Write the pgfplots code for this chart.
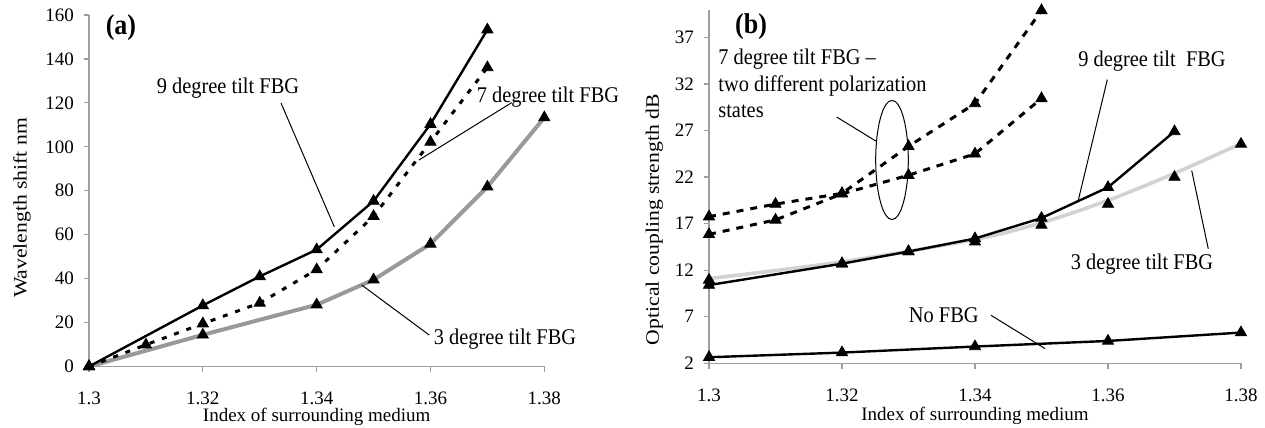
\documentclass[border=0pt]{standalone}
\usepackage{pgfplots}
\pgfplotsset{compat=1.18}
\usepackage{graphicx}
\usepackage{fontspec}
\setmainfont{Liberation Serif}
\newcommand{\st}[1]{\scalebox{1}[1.1]{#1}}
\newcommand{\lng}[1]{\scalebox{1.14}[1]{#1}}

\pgfplotsset{
 mystyle/.style={
  scale only axis, clip=false,
  axis x line*=bottom, axis y line*=left,
  axis line style={draw=gray!75, line width=0.6pt},
  tick style={draw=gray!75, line width=0.6pt},
  tick align=outside, major tick length=2.7pt,
  xmin=1.3, xmax=1.38,
  xtick={1.3,1.32,1.34,1.36,1.38},
  xticklabels={1.3,1.32,1.34,1.36,1.38},
  ticklabel style={font=\fontsize{9.5}{11}\selectfont},
  xticklabel style={inner sep=0pt, yshift=-9.8pt},
  yticklabel style={xshift=-1.3pt},
  /pgf/number format/assume math mode=true,
  label style={font=\fontsize{9.5}{11}\selectfont},
  every axis plot/.append style={mark=triangle*, mark size=3.2pt, mark options={solid, fill=black, draw=black, line width=0.4pt}},
 },
}
\tikzset{
 ann/.style={font=\fontsize{10.2}{12}\selectfont, inner sep=0pt},
 lead/.style={draw=black, line width=0.5pt},
}

\begin{document}
\begin{tikzpicture}
\useasboundingbox (0,0) rectangle (632.5pt,214pt);

% ---------------- panel (a)
\begin{axis}[mystyle,
  at={(44.5pt,30.75pt)}, anchor=south west,
  width=227.65pt, height=175.75pt,
  ymin=0, ymax=160, ytick={0,20,...,160},
  xlabel={Index of surrounding medium},
  ylabel={\lng{Wavelength shift nm}},
  xlabel style={at={(axis description cs:0.5,-0.143)}, anchor=center, inner sep=0pt},
  ylabel style={at={(axis description cs:-0.147,0.451)}, anchor=center},
]
\addplot[gray!80, line width=2pt] coordinates {(1.3,0)(1.32,14.4)(1.34,28.1)(1.35,39.5)(1.36,55.8)(1.37,81.8)(1.38,113.3)};
\addplot[black, line width=1.5pt, dash pattern=on 2.5pt off 4pt] coordinates {(1.3,0)(1.31,9.9)(1.32,19.5)(1.33,28.9)(1.34,44.1)(1.35,68.4)(1.36,102.2)(1.37,136.1)};
\addplot[black, line width=1.2pt] coordinates {(1.3,0)(1.32,27.8)(1.33,41)(1.34,53.2)(1.35,75.3)(1.36,110.3)(1.37,153.3)};

\node[font=\bfseries\fontsize{13}{15}\selectfont, inner sep=0pt] at (axis cs:1.30562,154.1) {\st{(a)}};
\node[ann] at (axis cs:1.32442,126.8) {\st{9 degree tilt FBG}};
\draw[lead] (axis cs:1.33374,119.9) -- (axis cs:1.3431,63.6);
\node[ann] at (axis cs:1.38065,122.7) {\st{7 degree tilt FBG}};
\draw[lead] (axis cs:1.37427,120.1) -- (axis cs:1.35798,94.0);
\node[ann] at (axis cs:1.37310,12.5) {\st{3 degree tilt FBG}};
\draw[lead] (axis cs:1.35979,14.3) -- (axis cs:1.34791,37.1);
\end{axis}

% ---------------- panel (b)
\begin{axis}[mystyle,
  at={(354.5pt,32.35pt)}, anchor=south west,
  width=266pt, height=176.9pt,
  ymin=2, ymax=40, ytick={2,7,...,37},
  xlabel={Index of surrounding medium},
  ylabel={\lng{Optical coupling strength dB}},
  xlabel style={at={(axis description cs:0.5,-0.148)}, anchor=center, inner sep=0pt},
  ylabel style={at={(axis description cs:-0.103,0.406)}, anchor=center},
]
\addplot[black, line width=1.2pt] coordinates {(1.3,2.65)(1.32,3.15)(1.34,3.8)(1.36,4.4)(1.38,5.3)};
\addplot[gray!35, line width=1.8pt, smooth, no markers] coordinates {(1.3,11.1)(1.32,12.9)(1.34,15.3)(1.35,17.1)(1.36,19.5)(1.37,22.4)(1.38,25.6)};
\addplot[only marks] coordinates {(1.3,10.95)(1.32,12.7)(1.33,14.0)(1.34,15.05)(1.35,16.85)(1.36,19.1)(1.37,22.0)(1.38,25.55)};
\addplot[black, line width=1.2pt] coordinates {(1.3,10.4)(1.32,12.7)(1.33,14.0)(1.34,15.4)(1.35,17.6)(1.36,20.9)(1.37,26.9)};
\addplot[black, line width=1.5pt, dash pattern=on 3.5pt off 3.5pt] coordinates {(1.3,17.75)(1.31,19.1)(1.32,20.25)(1.33,25.3)(1.34,29.9)(1.35,39.9)};
\addplot[black, line width=1.5pt, dash pattern=on 3.5pt off 3.5pt] coordinates {(1.3,15.85)(1.31,17.4)(1.32,20.2)(1.33,22.2)(1.34,24.5)(1.35,30.45)};

\node[font=\bfseries\fontsize{13}{15}\selectfont, inner sep=0pt] at (axis cs:1.30632,38.2) {\st{(b)}};
\node[ann, anchor=base west] at (axis cs:1.30135,34.04) {\st{7 degree tilt FBG --}};
\node[ann, anchor=base west] at (axis cs:1.30135,31.14) {\st{two different polarization}};
\node[ann, anchor=base west] at (axis cs:1.30135,28.45) {\st{states}};
\draw[lead] (axis cs:1.32752,23.84) ellipse [x radius=8.15pt, y radius=29.8pt];
\draw[lead] (axis cs:1.31920,28.45) -- (axis cs:1.32507,25.88);
\node[ann] at (axis cs:1.36662,34.5) {\st{9 degree tilt\ \ FBG}};
\draw[lead] (axis cs:1.35990,32.47) -- (axis cs:1.35553,19.5);
\node[ann] at (axis cs:1.36511,12.6) {\st{3 degree tilt FBG}};
\draw[lead] (axis cs:1.37508,14.3) -- (axis cs:1.37259,22.7);
\node[ann] at (axis cs:1.33531,7.16) {\st{No FBG}};
\draw[lead] (axis cs:1.3424,7.16) -- (axis cs:1.35053,3.58);
\end{axis}
\end{tikzpicture}
\end{document}
